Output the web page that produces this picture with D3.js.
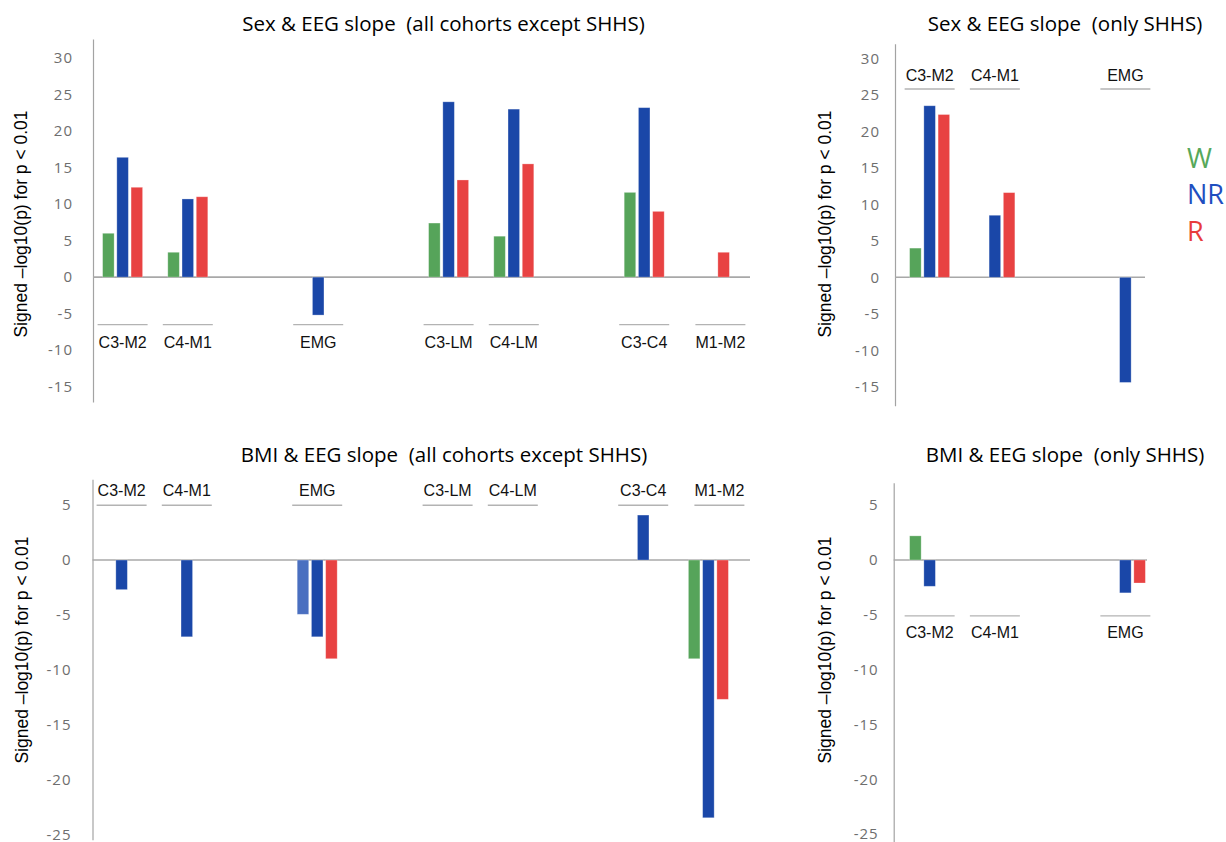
<!DOCTYPE html>
<html>
<head>
<meta charset="utf-8">
<script src="https://cdn.jsdelivr.net/npm/d3@7"></script>
<style>
  html, body { margin: 0; padding: 0; background: #fff; }
  svg { display: block; }
  text { white-space: pre; }
</style>
</head>
<body>
<svg id="chart" width="1226" height="842"></svg>
<script>
// Series names and colours
const seriesKeys = ["W", "NR", "R"];
const seriesColors = { W: "#56a45a", NR: "#1a47a8", R: "#e84242" };

// Sex & EEG slope, all cohorts except SHHS
const sexAllCategories = ["C3-M2", "C4-M1", "EMG", "C3-LM", "C4-LM", "C3-C4", "M1-M2"];
const sexAllW  = [6.0, 3.4, null, 7.4, 5.6, 11.6, null];
const sexAllNR = [16.4, 10.7, -5.2, 24.0, 23.0, 23.2, null];
const sexAllR  = [12.3, 11.0, null, 13.3, 15.5, 9.0, 3.4];

// Sex & EEG slope, only SHHS
const sexShhsCategories = ["C3-M2", "C4-M1", "EMG"];
const sexShhsW  = [4.0, null, null];
const sexShhsNR = [23.5, 8.5, -14.4];
const sexShhsR  = [22.3, 11.6, null];

// BMI & EEG slope, all cohorts except SHHS
const bmiAllCategories = ["C3-M2", "C4-M1", "EMG", "C3-LM", "C4-LM", "C3-C4", "M1-M2"];
const bmiAllW  = [null, null, -4.95, null, null, null, -9.0];
const bmiAllNR = [-2.7, -7.0, -7.0, null, null, 4.1, -23.5];
const bmiAllR  = [null, null, -9.0, null, null, null, -12.7];

// BMI & EEG slope, only SHHS
const bmiShhsCategories = ["C3-M2", "C4-M1", "EMG"];
const bmiShhsW  = [2.2, null, null];
const bmiShhsNR = [-2.4, null, -3.0];
const bmiShhsR  = [null, null, -2.1];

// Tick labels
const sexTicks = [30, 25, 20, 15, 10, 5, 0, -5, -10, -15];
const bmiTicks = [5, 0, -5, -10, -15, -20, -25];

const yTitle = "Signed \u2013log10(p) for p < 0.01";

// ---- layout ----
// channel order along the x axis, with empty slots between groups
const allSlots  = ["C3-M2", "C4-M1", null, "EMG", null, "C3-LM", "C4-LM", null, "C3-C4", "M1-M2"];
const shhsSlots = ["C3-M2", "C4-M1", null, "EMG"];
const labelNudge = { "M1-M2": 11 };

const panels = [
  {
    title: "Sex & EEG slope  (all cohorts except SHHS)", titleX: 443.5, titleY: 23,
    categories: sexAllCategories, W: sexAllW, NR: sexAllNR, R: sexAllR,
    slots: allSlots, xRange: [90, 742], axisX: 93, zeroEnd: 750,
    yDomain: [-17.1, 32.6], yRange: [402, 39], ticks: sexTicks, tickPad: 20,
    titleYx: 21, titleYy: 224,
    labelLine: -6.5, labelText: -8.9
  },
  {
    title: "Sex & EEG slope  (only SHHS)", titleX: 1065, titleY: 23,
    categories: sexShhsCategories, W: sexShhsW, NR: sexShhsNR, R: sexShhsR,
    slots: shhsSlots, xRange: [897, 1158], axisX: 895, zeroEnd: 1145,
    yDomain: [-17.6, 32.0], yRange: [405.8, 43.7], ticks: sexTicks, tickPad: 15,
    titleYx: 825, titleYy: 224,
    labelLine: 25.8, labelText: 27.6
  },
  {
    title: "BMI & EEG slope  (all cohorts except SHHS)", titleX: 444, titleY: 454,
    categories: bmiAllCategories, W: bmiAllW, NR: bmiAllNR, R: bmiAllR,
    slots: allSlots, xRange: [89, 741], axisX: 92.5, zeroEnd: 750,
    yDomain: [-25.5, 7.36], yRange: [839.7, 479.3], ticks: bmiTicks, tickPad: 21,
    titleYx: 22, titleYy: 650,
    labelLine: 5.0, labelText: 6.3,
    // the W bar of EMG is filled in a lighter blue
    fillOverride: { "EMG|W": "#4a6fc0" }
  },
  {
    title: "BMI & EEG slope  (only SHHS)", titleX: 1065, titleY: 454,
    categories: bmiShhsCategories, W: bmiShhsW, NR: bmiShhsNR, R: bmiShhsR,
    slots: shhsSlots, xRange: [897, 1158], axisX: 893.7, zeroEnd: 1147,
    yDomain: [-25.7, 7.05], yRange: [841.7, 482.7], ticks: bmiTicks, tickPad: 15,
    titleYx: 825, titleYy: 650,
    labelLine: -5.1, labelText: -6.65
  }
];

const svg = d3.select("#chart");

panels.forEach(p => {
  const g = svg.append("g");

  const slotKeys = p.slots.map((s, i) => s === null ? `__gap${i}` : s);
  const x = d3.scaleBand().domain(slotKeys).range(p.xRange).padding(0);
  const xInner = d3.scaleBand().domain(seriesKeys).range([-20, 20]).paddingInner(0.19);
  const y = d3.scaleLinear().domain(p.yDomain).range(p.yRange);

  // y axis: vertical line plus grey tick labels
  const axis = d3.axisLeft(y).tickValues(p.ticks).tickSize(0).tickPadding(p.tickPad)
    .tickFormat(d => String(d));
  const ax = g.append("g").attr("transform", `translate(${p.axisX},0)`).call(axis);
  ax.select(".domain").attr("stroke", "#a3a3a3").attr("stroke-width", 1.2);
  ax.selectAll(".tick text")
    .attr("fill", "#6e6e6e")
    .style("font-family", "'Open Sans', sans-serif")
    .style("font-size", "15px")
    .style("letter-spacing", "1px");

  // zero line
  g.append("line")
    .attr("x1", p.axisX).attr("x2", p.zeroEnd)
    .attr("y1", y(0)).attr("y2", y(0))
    .attr("stroke", "#a8a8a8").attr("stroke-width", 1.6);

  // bars
  const rows = [];
  p.categories.forEach((c, i) => {
    seriesKeys.forEach(k => {
      const v = p[k][i];
      if (v !== null && v !== undefined) rows.push({ cat: c, key: k, value: v });
    });
  });
  g.append("g").selectAll("rect").data(rows).join("rect")
    .attr("x", d => x(d.cat) + x.bandwidth() / 2 + xInner(d.key))
    .attr("width", xInner.bandwidth())
    .attr("y", d => Math.min(y(d.value), y(0)))
    .attr("height", d => Math.abs(y(d.value) - y(0)))
    .attr("fill", d => (p.fillOverride && p.fillOverride[`${d.cat}|${d.key}`]) || seriesColors[d.key])
    .attr("stroke", "#ffffff").attr("stroke-opacity", 0.35).attr("stroke-width", 0.8);

  // channel labels with short rules
  const labels = g.append("g").selectAll("g").data(p.categories).join("g")
    .attr("transform", d => `translate(${x(d) + x.bandwidth() / 2 + (labelNudge[d] || 0)},0)`);
  labels.append("line")
    .attr("x1", -25).attr("x2", 25)
    .attr("y1", y(p.labelLine)).attr("y2", y(p.labelLine))
    .attr("stroke", "#b3b3b3").attr("stroke-width", 1.4);
  labels.append("text")
    .attr("y", y(p.labelText))
    .attr("text-anchor", "middle")
    .attr("dominant-baseline", "central")
    .attr("fill", "#111")
    .style("font-family", "'Liberation Sans', Arial, sans-serif")
    .style("font-size", "16px")
    .text(d => d);

  // panel title
  g.append("text")
    .attr("x", p.titleX).attr("y", p.titleY)
    .attr("text-anchor", "middle").attr("dominant-baseline", "central")
    .attr("fill", "#000")
    .style("font-family", "'Open Sans', sans-serif")
    .style("font-size", "20.5px")
    .text(p.title);

  // y axis title
  g.append("text")
    .attr("transform", `translate(${p.titleYx},${p.titleYy}) rotate(-90)`)
    .attr("text-anchor", "middle").attr("dominant-baseline", "central")
    .attr("fill", "#000")
    .style("font-family", "'Liberation Sans', Arial, sans-serif")
    .style("font-size", "17.5px")
    .text(yTitle);
});

// legend
const legend = svg.append("g").attr("transform", "translate(1187,0)");
legend.selectAll("text").data(seriesKeys).join("text")
  .attr("x", 0)
  .attr("y", (d, i) => 157 + i * 36.5)
  .attr("dominant-baseline", "central")
  .attr("fill", d => ({ W: "#56a85a", NR: "#1f4fc0", R: "#e83c3c" })[d])
  .style("font-family", "'Open Sans', sans-serif")
  .style("font-size", "27px")
  .text(d => d);
</script>
</body>
</html>
